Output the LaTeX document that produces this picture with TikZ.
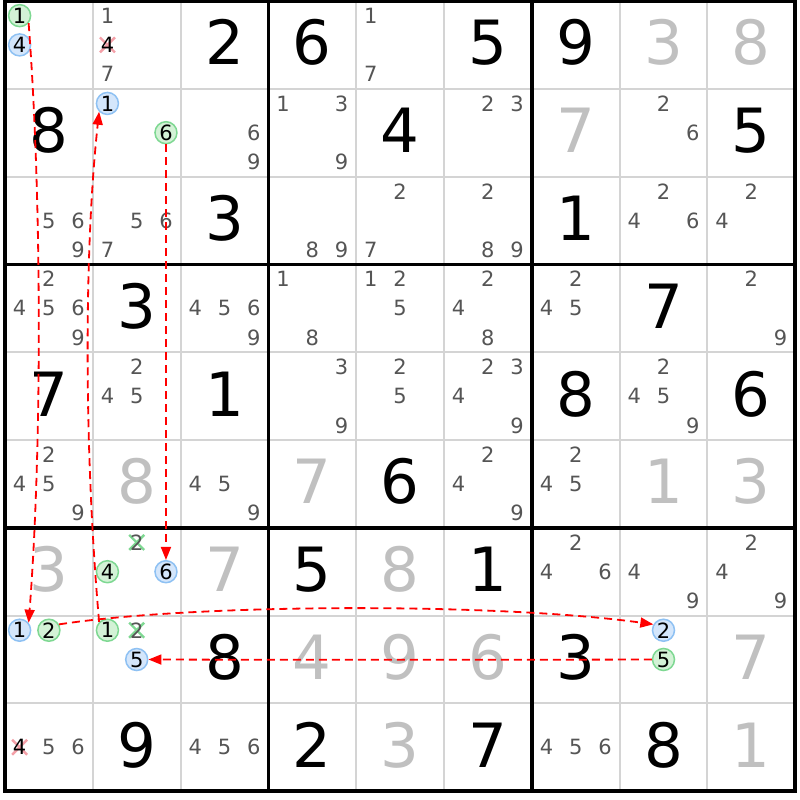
\documentclass[tikz,border=0pt]{standalone}
\usepackage{fontspec}
\setmainfont{DejaVu Sans}
\usetikzlibrary{arrows.meta}
\definecolor{candgray}{HTML}{555555}
\definecolor{solvedgray}{HTML}{C0C0C0}
\definecolor{thingrid}{HTML}{D4D4D4}
\definecolor{bluefill}{HTML}{D4E6FB}
\definecolor{bluedraw}{HTML}{8EC1F3}
\definecolor{greenfill}{HTML}{D3F2D6}
\definecolor{greendraw}{HTML}{7ED892}
\definecolor{xred}{HTML}{F4A0A8}
\definecolor{xgreen}{HTML}{7ED892}
\definecolor{arrowred}{HTML}{FF0000}
\newcommand\givenD[4][givenstyle]{\node[#1] (g#2#3) at ({5+(#3-0.5)*87.8},{1+(#2-0.5)*87.8+20}) {#4};}
\newcommand\candD[4][cand]{\foreach \k in {#4} {\node[#1] (c#2#3\k) at ({5+(#3-1)*87.8+14.63+29.27*mod(\k-1,3)},{1+(#2-1)*87.8+14.63+29.27*floor((\k-1)/3)}) {\k};}}
\newcommand\xmarkD[4]{\draw[#4, line width=2.4pt] ({5+(#2-1)*87.8+14.63+29.27*mod(#3-1,3)-7.5},{1+(#1-1)*87.8+14.63+29.27*floor((#3-1)/3)-7.5}) -- ++(15,15) ++(0,-15) -- ++(-15,15);}
\begin{document}
\begin{tikzpicture}[x=1pt,y=-1pt,
  bigdigit/.style={anchor=base, font=\fontsize{61}{61}\selectfont, inner sep=0pt},
  givenstyle/.style={bigdigit, text=black},
  solvedstyle/.style={bigdigit, text=solvedgray},
  cand/.style={circle, inner sep=0pt, minimum size=22pt, font=\fontsize{21}{21}\selectfont, text=candgray},
  candblack/.style={cand, text=black},
  bluec/.style={cand, fill=bluefill, draw=bluedraw, line width=1.5pt, text=black},
  greenc/.style={cand, fill=greenfill, draw=greendraw, line width=1.5pt, text=black},
  thingridline/.style={draw=thingrid, line width=2pt},
  thickgridline/.style={draw=black, line width=3.5pt},
  link/.style={draw=arrowred, line width=1.8pt, dash pattern=on 8pt off 5pt, -{Triangle[length=13pt,width=10pt]}},
]
\fill[white] (0,0) rectangle (800,800);
\useasboundingbox (0,0) rectangle (800,800);
% grid
\foreach \i in {1,2,4,5,7,8} {
  \draw[thingridline] ({5+\i*87.8},1) -- ({5+\i*87.8},791.2);
  \draw[thingridline] (5,{1+\i*87.8}) -- (795.2,{1+\i*87.8});
}
\foreach \i in {0,3,6,9} {
  \draw[thickgridline] ({5+\i*87.8},-0.75) -- ({5+\i*87.8},792.95);
  \draw[thickgridline] (3.25,{1+\i*87.8}) -- (796.95,{1+\i*87.8});
}
% givens (black)
\givenD{1}{3}{2}\givenD{1}{4}{6}\givenD{1}{6}{5}\givenD{1}{7}{9}
\givenD{2}{1}{8}\givenD{2}{5}{4}\givenD{2}{9}{5}
\givenD{3}{3}{3}\givenD{3}{7}{1}
\givenD{4}{2}{3}\givenD{4}{8}{7}
\givenD{5}{1}{7}\givenD{5}{3}{1}\givenD{5}{7}{8}\givenD{5}{9}{6}
\givenD{6}{5}{6}
\givenD{7}{4}{5}\givenD{7}{6}{1}
\givenD{8}{3}{8}\givenD{8}{7}{3}
\givenD{9}{2}{9}\givenD{9}{4}{2}\givenD{9}{6}{7}\givenD{9}{8}{8}
% solved (gray)
\givenD[solvedstyle]{1}{8}{3}\givenD[solvedstyle]{1}{9}{8}
\givenD[solvedstyle]{2}{7}{7}
\givenD[solvedstyle]{6}{2}{8}\givenD[solvedstyle]{6}{4}{7}\givenD[solvedstyle]{6}{8}{1}\givenD[solvedstyle]{6}{9}{3}
\givenD[solvedstyle]{7}{1}{3}\givenD[solvedstyle]{7}{3}{7}\givenD[solvedstyle]{7}{5}{8}
\givenD[solvedstyle]{8}{4}{4}\givenD[solvedstyle]{8}{5}{9}\givenD[solvedstyle]{8}{6}{6}\givenD[solvedstyle]{8}{9}{7}
\givenD[solvedstyle]{9}{5}{3}\givenD[solvedstyle]{9}{9}{1}
% eliminations (crosses under the digits)
\xmarkD{1}{2}{4}{xred}
\xmarkD{9}{1}{4}{xred}
\xmarkD{7}{2}{2}{xgreen}
\xmarkD{8}{2}{2}{xgreen}
% candidates
\candD[greenc]{1}{1}{1}\candD[bluec]{1}{1}{4}
\candD{1}{2}{1,7}\candD[candblack]{1}{2}{4}
\candD{1}{5}{1,7}
\candD[bluec]{2}{2}{1}\candD[greenc]{2}{2}{6}
\candD{2}{3}{6,9}
\candD{2}{4}{1,3,9}
\candD{2}{6}{2,3}
\candD{2}{8}{2,6}
\candD{3}{1}{5,6,9}
\candD{3}{2}{5,6,7}
\candD{3}{4}{8,9}
\candD{3}{5}{2,7}
\candD{3}{6}{2,8,9}
\candD{3}{8}{2,4,6}
\candD{3}{9}{2,4}
\candD{4}{1}{2,4,5,6,9}
\candD{4}{3}{4,5,6,9}
\candD{4}{4}{1,8}
\candD{4}{5}{1,2,5}
\candD{4}{6}{2,4,8}
\candD{4}{7}{2,4,5}
\candD{4}{9}{2,9}
\candD{5}{2}{2,4,5}
\candD{5}{4}{3,9}
\candD{5}{5}{2,5}
\candD{5}{6}{2,3,4,9}
\candD{5}{8}{2,4,5,9}
\candD{6}{1}{2,4,5,9}
\candD{6}{3}{4,5,9}
\candD{6}{6}{2,4,9}
\candD{6}{7}{2,4,5}
\candD{7}{2}{2}\candD[greenc]{7}{2}{4}\candD[bluec]{7}{2}{6}
\candD{7}{7}{2,4,6}
\candD{7}{8}{4,9}
\candD{7}{9}{2,4,9}
\candD[bluec]{8}{1}{1}\candD[greenc]{8}{1}{2}
\candD[greenc]{8}{2}{1}\candD{8}{2}{2}\candD[bluec]{8}{2}{5}
\candD[bluec]{8}{8}{2}\candD[greenc]{8}{8}{5}
\candD[candblack]{9}{1}{4}\candD{9}{1}{5,6}
\candD{9}{3}{4,5,6}
\candD{9}{7}{4,5,6}
% links
\draw[link] (c111.-40) .. controls (42,200) and (42,450) .. (c811.40);
\draw[link] (c821.135) .. controls (84,450) and (84,250) .. (c221.225);
\draw[link] (c226) -- (c726);
\draw[link] (c812.30) .. controls (200,603) and (500,603) .. (c882.150);
\draw[link] (c885.west) .. controls +(-150,0.4) and +(150,0.4) .. (c825.east);
\end{tikzpicture}
\end{document}
